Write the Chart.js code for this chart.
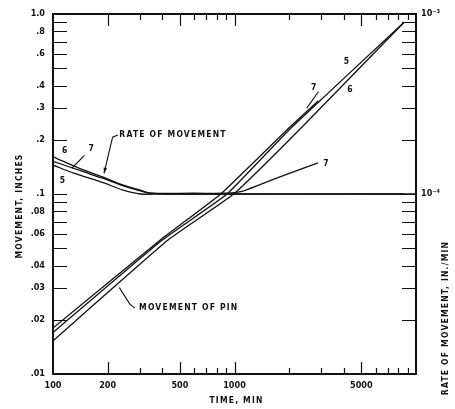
<!DOCTYPE html>
<html>
<head>
<meta charset="utf-8">
<title>Movement of pin</title>
<script src="https://cdn.jsdelivr.net/npm/chart.js@4.4.0/dist/chart.umd.min.js"></script>
<style>
  html, body { margin: 0; padding: 0; background: #fff; }
  #wrap { width: 455px; height: 409px; }
</style>
</head>
<body>
<div id="wrap"><canvas id="pinChart" width="455" height="409"></canvas></div>
<script>
// axis ticks
const timeTicks = [100, 200, 500, 1000, 5000];
const moveTicks = [0.01, 0.02, 0.03, 0.04, 0.06, 0.08, 0.1, 0.2, 0.3, 0.4, 0.6, 0.8, 1.0];
const moveTickLabels = ['.01', '.02', '.03', '.04', '.06', '.08', '.1', '.2', '.3', '.4', '.6', '.8', '1.0'];
const rateTicks = [1e-4, 1e-3];
const rateTickLabels = ['10\u207B\u2074', '10\u207B\u00B3'];

// movement of pin, inches (specimens 5, 6, 7)
const pinTime5 = [100, 400, 910, 2040, 8600];
const pinMove5 = [0.017, 0.0555, 0.1, 0.232, 0.9];
const pinTime6 = [100, 430, 990, 2320, 8600];
const pinMove6 = [0.0153, 0.0555, 0.1, 0.232, 0.9];
const pinTime7 = [100, 390, 840, 2040, 2900];
const pinMove7 = [0.018, 0.0555, 0.1, 0.238, 0.33];

// rate of movement, in./min
const rateTime5 = [100, 129, 189, 244, 303, 400, 10000];
const rate5 = [1.45e-4, 1.31e-4, 1.155e-4, 1.05e-4, 1.0e-4, 1.0e-4, 1.0e-4];
const rateTime6 = [100, 147, 189, 244, 303, 344, 450, 8600];
const rate6 = [1.61e-4, 1.36e-4, 1.24e-4, 1.12e-4, 1.05e-4, 1.01e-4, 1.0e-4, 1.0e-4];
const rateTime7 = [100, 147, 189, 244, 303, 344, 600, 900, 1080, 1450, 2040, 2880];
const rate7 = [1.52e-4, 1.33e-4, 1.22e-4, 1.11e-4, 1.04e-4, 1.01e-4, 1.01e-4, 1.01e-4, 1.03e-4, 1.15e-4, 1.31e-4, 1.49e-4];

const FONT = '"DejaVu Sans Condensed", "Liberation Sans Narrow", "DejaVu Sans", sans-serif';
const INK = '#111';

function pts(xs, ys) {
    return xs.map((x, i) => ({ x: x, y: ys[i] }));
}

function curve(data, axis, tension) {
    return {
        data: data,
        yAxisID: axis,
        borderColor: INK,
        borderWidth: 1.3,
        pointRadius: 0,
        tension: tension,
        fill: false
    };
}

// labels and leaders, placed in data units (time, inches)
const notes = [
    { text: 'RATE OF MOVEMENT', x: 232, y: 0.213 },
    { text: 'MOVEMENT OF PIN', x: 298, y: 0.0232 },
    { text: '6', x: 112, y: 0.174 },
    { text: '7', x: 157, y: 0.178 },
    { text: '5', x: 109, y: 0.118 },
    { text: '7', x: 2640, y: 0.39 },
    { text: '5', x: 4000, y: 0.54 },
    { text: '6', x: 4180, y: 0.38 },
    { text: '7', x: 3080, y: 0.147 }
];
const leaders = [
    { path: [[228, 0.213], [213, 0.207], [191, 0.13]], arrow: true },
    { path: [[282, 0.0232], [264, 0.0246], [232, 0.0302]], arrow: false },
    { path: [[149, 0.164], [127, 0.139]], arrow: false },
    { path: [[2900, 0.37], [2500, 0.3]], arrow: false }
];

const frame = {
    id: 'frame',
    afterDraw(chart) {
        const ctx = chart.ctx;
        const a = chart.chartArea;
        const sx = chart.scales.x, sy = chart.scales.y, s2 = chart.scales.y2;
        ctx.save();
        ctx.strokeStyle = INK;
        ctx.fillStyle = INK;

        // inward tick marks
        ctx.lineWidth = 1.2;
        ctx.beginPath();
        for (let d = 100; d < 10000; d *= 10) {
            for (let m = 1; m <= 9; m++) {
                const v = m * d;
                if (v <= 100 || v >= 10000) continue;
                const px = Math.round(sx.getPixelForValue(v)) + 0.5;
                const len = timeTicks.includes(v) || m === 1 ? 12 : 6;
                ctx.moveTo(px, a.bottom); ctx.lineTo(px, a.bottom - len);
                ctx.moveTo(px, a.top); ctx.lineTo(px, a.top + len);
            }
        }
        for (let d = 0.01; d < 1; d *= 10) {
            for (let m = 1; m <= 9; m++) {
                const v = m * d;
                if (v <= 0.0100001 || v >= 0.99999) continue;
                const py = Math.round(sy.getPixelForValue(v)) + 0.5;
                ctx.moveTo(a.left, py); ctx.lineTo(a.left + 14, py);
            }
        }
        for (let d = 1e-5; d < 1e-3; d *= 10) {
            for (let m = 1; m <= 9; m++) {
                const v = m * d;
                if (v <= 1.00001e-5 || v >= 0.99999e-3) continue;
                const py = Math.round(s2.getPixelForValue(v)) + 0.5;
                ctx.moveTo(a.right, py); ctx.lineTo(a.right - 14, py);
            }
        }
        ctx.stroke();

        // frame
        ctx.lineWidth = 2;
        ctx.strokeRect(a.left, a.top, a.right - a.left, a.bottom - a.top);

        // leaders
        ctx.lineWidth = 1.1;
        leaders.forEach(l => {
            const p = l.path.map(q => [sx.getPixelForValue(q[0]), sy.getPixelForValue(q[1])]);
            ctx.beginPath();
            ctx.moveTo(p[0][0], p[0][1]);
            for (let i = 1; i < p.length; i++) ctx.lineTo(p[i][0], p[i][1]);
            ctx.stroke();
            if (l.arrow) {
                const e = p[p.length - 1], b = p[p.length - 2];
                const ang = Math.atan2(e[1] - b[1], e[0] - b[0]);
                ctx.beginPath();
                ctx.moveTo(e[0], e[1]);
                ctx.lineTo(e[0] - 6 * Math.cos(ang - 0.3), e[1] - 6 * Math.sin(ang - 0.3));
                ctx.lineTo(e[0] - 6 * Math.cos(ang + 0.3), e[1] - 6 * Math.sin(ang + 0.3));
                ctx.closePath();
                ctx.fill();
            }
        });

        // notes
        ctx.font = 'bold 8.5px ' + FONT;
        ctx.letterSpacing = '1.2px';
        ctx.textAlign = 'left';
        ctx.textBaseline = 'middle';
        notes.forEach(n => {
            ctx.fillText(n.text, sx.getPixelForValue(n.x), sy.getPixelForValue(n.y));
        });

        // axis titles
        ctx.textAlign = 'center';
        ctx.fillText('TIME, MIN', (a.left + a.right) / 2 + 2, 401);
        ctx.save();
        ctx.translate(20, (a.top + a.bottom) / 2 + 12);
        ctx.rotate(-Math.PI / 2);
        ctx.fillText('MOVEMENT, INCHES', 0, 0);
        ctx.restore();
        ctx.save();
        ctx.translate(446, 318);
        ctx.rotate(-Math.PI / 2);
        ctx.fillText('RATE OF MOVEMENT, IN./MIN', 0, 0);
        ctx.restore();
        ctx.restore();
    }
};

const tickFont = { family: FONT, size: 9, weight: 'bold' };

new Chart(document.getElementById('pinChart'), {
    type: 'line',
    data: {
        datasets: [
            curve(pts(pinTime5, pinMove5), 'y', 0.12),
            curve(pts(pinTime6, pinMove6), 'y', 0.12),
            curve(pts(pinTime7, pinMove7), 'y', 0.12),
            curve(pts(rateTime5, rate5), 'y2', 0.35),
            curve(pts(rateTime6, rate6), 'y2', 0.35),
            curve(pts(rateTime7, rate7), 'y2', 0.35)
        ]
    },
    options: {
        responsive: false,
        animation: false,
        layout: { padding: { top: 14, left: 0, right: 0, bottom: 0 } },
        plugins: { legend: { display: false }, tooltip: { enabled: false } },
        scales: {
            x: {
                type: 'logarithmic',
                position: 'bottom',
                min: 100,
                max: 10000,
                afterBuildTicks: s => { s.ticks = timeTicks.map(v => ({ value: v })); },
                afterFit: s => { s.height = 35; },
                ticks: {
                    callback: v => String(v),
                    font: tickFont, color: INK, padding: 6,
                    maxRotation: 0, autoSkip: false
                },
                grid: { display: false, drawTicks: false },
                border: { display: false }
            },
            y: {
                type: 'logarithmic',
                position: 'left',
                min: 0.01,
                max: 1,
                afterBuildTicks: s => { s.ticks = moveTicks.map(v => ({ value: v })); },
                afterFit: s => { s.width = 53; },
                ticks: {
                    callback: (v, i) => moveTickLabels[i],
                    font: tickFont, color: INK, padding: 8, autoSkip: false
                },
                grid: { display: false, drawTicks: false },
                border: { display: false }
            },
            y2: {
                type: 'logarithmic',
                position: 'right',
                min: 1e-5,
                max: 1e-3,
                afterBuildTicks: s => { s.ticks = rateTicks.map(v => ({ value: v })); },
                afterFit: s => { s.width = 39; },
                ticks: {
                    callback: (v, i) => rateTickLabels[i],
                    font: tickFont, color: INK, padding: 5, autoSkip: false
                },
                grid: { display: false, drawTicks: false },
                border: { display: false }
            }
        }
    },
    plugins: [frame]
});
</script>
</body>
</html>
